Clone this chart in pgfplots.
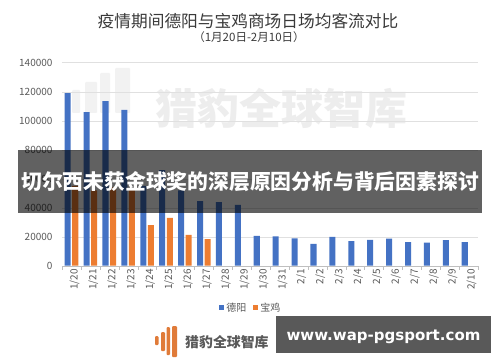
\documentclass[border=0pt]{standalone}
\usepackage{fontspec}
\setmainfont{Noto Sans CJK SC}
\newfontfamily\dvs{DejaVu Sans}
\usepackage{pgfplots}
\pgfplotsset{compat=1.18}
\definecolor{dyblue}{HTML}{4472C4}
\definecolor{bjorange}{HTML}{ED7D31}
\definecolor{txtgray}{HTML}{595959}
\definecolor{titlegray}{HTML}{3A3A3A}
\definecolor{logoorange}{HTML}{E07B39}
\begin{document}
\begin{tikzpicture}[x=1pt,y=1pt]
\path[use as bounding box, fill=white] (0,0) rectangle (500,362);
% faint watermark inside the plot
\fill[black!5, rounded corners=1pt] (72,249) rectangle (80,272);
\fill[black!5, rounded corners=1pt] (85,249) rectangle (97,280);
\fill[black!5, rounded corners=1pt] (100,249) rectangle (110,289);
\fill[black!5, rounded corners=1pt] (115,249) rectangle (130,294);
\node[text=black!7, font=\fontsize{42}{42}\selectfont\bfseries] at (281.5,254) {猎豹全球智库};
% title
\node[text=titlegray, font=\fontsize{16.7}{18}\selectfont] at (248,341) {疫情期间德阳与宝鸡商场日场均客流对比};
\node[text=titlegray, font=\fontsize{11.5}{13}\selectfont] at (249,325) {（1月20日-2月10日）};
\begin{axis}[
  scale only axis,
  width=416pt, height=203pt,
  at={(62pt,96.3pt)}, anchor=south west,
  xmin=-0.5, xmax=21.5,
  ymin=0, ymax=140000,
  ytick={0,20000,40000,60000,80000,100000,120000,140000},
  yticklabels={0,20000,40000,60000,80000,100000,120000,140000},
  scaled y ticks=false,
  xtick={0,...,21},
  xticklabels={1/20,1/21,1/22,1/23,1/24,1/25,1/26,1/27,1/28,1/29,1/30,1/31,2/1,2/2,2/3,2/4,2/5,2/6,2/7,2/8,2/9,2/10},
  minor xtick={-0.5,0.5,1.5,2.5,3.5,4.5,5.5,6.5,7.5,8.5,9.5,10.5,11.5,12.5,13.5,14.5,15.5,16.5,17.5,18.5,19.5,20.5,21.5},
  major tick length=0pt,
  minor tick length=4pt,
  tick align=outside,
  minor x tick style={black!25},
  axis lines*=left,
  y axis line style={draw=none},
  x axis line style={black!25},
  ymajorgrids,
  grid style={black!12},
  yticklabel style={font=\fontsize{10}{12}\selectfont, text=txtgray, xshift=-6pt},
  xticklabel style={font=\fontsize{10}{12}\selectfont, text=txtgray, rotate=90, anchor=east, yshift=-3pt},
  legend style={at={(0.454,-0.208)}, anchor=center, draw=none, fill=none,
    legend columns=2, font=\fontsize{10}{12}\selectfont, text=txtgray,
    /tikz/every even column/.append style={column sep=5pt}},
  legend cell align=left,
]
\addplot[ybar, bar width=0.32, bar shift=-0.2, fill=dyblue, draw=none,
  legend image code/.code={\fill[dyblue] (0pt,-2.5pt) rectangle (5pt,2.5pt);}]
  coordinates {(0,119000) (1,106000) (2,113500) (3,107500) (4,55000) (5,66000)
  (6,52000) (7,44600) (8,43800) (9,42000) (10,20500) (11,20300) (12,18900)
  (13,15000) (14,19900) (15,17000) (16,17800) (17,18600) (18,16300) (19,16000)
  (20,17700) (21,16200)};
\addlegendentry{德阳}
\addplot[ybar, bar width=0.32, bar shift=0.2, fill=bjorange, draw=none,
  legend image code/.code={\fill[bjorange] (0pt,-2.5pt) rectangle (5pt,2.5pt);}]
  coordinates {(0,55000) (1,52000) (2,54000) (3,53000) (4,28000) (5,33000)
  (6,21200) (7,18400)};
\addlegendentry{宝鸡}
\end{axis}
% overlay banner
\fill[black, opacity=0.62] (18,149) rectangle (482,212);
\node[text=white, font=\fontsize{20.8}{22}\selectfont\bfseries] at (250,180) {切尔西未获金球奖的深层原因分析与背后因素探讨};
% bottom logo
\fill[logoorange, rounded corners=1pt] (155,17) rectangle (158.5,26);
\fill[logoorange, rounded corners=1pt] (161,11) rectangle (165,30);
\fill[logoorange, rounded corners=1pt] (166.5,7) rectangle (170,35);
\fill[logoorange, rounded corners=1pt] (172,5) rectangle (177,36);
\node[text=txtgray, font=\fontsize{13.9}{15}\selectfont\bfseries, anchor=west, inner sep=0pt] at (185,20) {猎豹全球智库};
% site box
\fill[black!65] (276,9) rectangle (491,46);
\node[text=white, font=\dvs\fontsize{15}{17}\selectfont\bfseries] at (383.5,25.5) {www.wap-pgsport.com};
\end{tikzpicture}
\end{document}
